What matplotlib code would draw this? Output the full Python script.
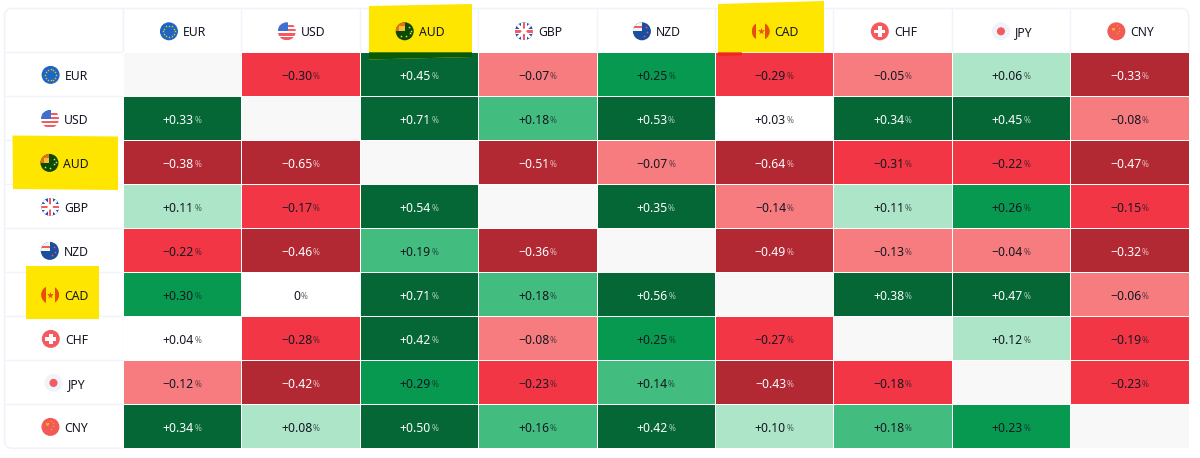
import numpy as np
import matplotlib
matplotlib.use('Agg')
import matplotlib.pyplot as plt
from matplotlib.colors import ListedColormap, BoundaryNorm
from matplotlib.patches import Circle, Rectangle, Polygon, FancyBboxPatch

plt.rcParams['font.family'] = ['Noto Sans', 'DejaVu Sans']

# Data
currencies = ['EUR', 'USD', 'AUD', 'GBP', 'NZD', 'CAD', 'CHF', 'JPY', 'CNY']
n = np.nan
eur = [n, -0.30, 0.45, -0.07, 0.25, -0.29, -0.05, 0.06, -0.33]
usd = [0.33, n, 0.71, 0.18, 0.53, 0.03, 0.34, 0.45, -0.08]
aud = [-0.38, -0.65, n, -0.51, -0.07, -0.64, -0.31, -0.22, -0.47]
gbp = [0.11, -0.17, 0.54, n, 0.35, -0.14, 0.11, 0.26, -0.15]
nzd = [-0.22, -0.46, 0.19, -0.36, n, -0.49, -0.13, -0.04, -0.32]
cad = [0.30, 0.00, 0.71, 0.18, 0.56, n, 0.38, 0.47, -0.06]
chf = [0.04, -0.28, 0.42, -0.08, 0.25, -0.27, n, 0.12, -0.19]
jpy = [-0.12, -0.42, 0.29, -0.23, 0.14, -0.43, -0.18, n, -0.23]
cny = [0.34, 0.08, 0.50, 0.16, 0.42, 0.10, 0.18, 0.23, n]
values = np.array([eur, usd, aud, gbp, nzd, cad, chf, jpy, cny])

# colour classes as used on the heatmap widget
bounds = [-1, -0.315, -0.145, -0.035, 0.05, 0.13, 0.21, 0.315, 1]
colors = ['#B22833', '#F23645', '#F77C80', '#FFFFFF', '#ACE5C8', '#42BD7F', '#089950', '#056636']

# layout in pixels
x0, y0 = 122.7, 52.3
cw, ch = 118.45, 44.0
left, top = 4.5, 8.5
ink = '#131722'

fig = plt.figure(figsize=(12, 4.58), dpi=100)
ax = fig.add_axes([0, 0, 1, 1])
ax.set_xlim(0, 1200)
ax.set_ylim(458, 0)
ax.axis('off')

x_edges = x0 + cw * np.arange(10)
y_edges = y0 + ch * np.arange(10)

# card behind everything
ax.add_patch(FancyBboxPatch((left, top), x_edges[-1] - left, y_edges[-1] - top,
                            boxstyle='round,pad=0,rounding_size=8', fc='white', ec='#F0F3FA', lw=1.2, zorder=0))
for x in x_edges[:-1]:
    ax.plot([x, x], [top, y0], color='#F0F3FA', lw=1, zorder=1)
ax.plot([x0, x0], [top, y_edges[-1]], color='#F0F3FA', lw=1, zorder=1)
for y in y_edges[:-1]:
    ax.plot([left, x0], [y, y], color='#F0F3FA', lw=1, zorder=1)

cmap = ListedColormap(colors)
cmap.set_bad('#F8F8F8')
norm = BoundaryNorm(bounds, cmap.N)
ax.pcolormesh(x_edges, y_edges, np.ma.masked_invalid(values), cmap=cmap, norm=norm,
              edgecolors='#FFFFFF', linewidth=0.6, zorder=2)

# yellow marker strokes
ax.add_patch(Polygon([(369, 6), (472, 4), (472, 57), (369, 59.5)], fc='#FFE600', ec='none', zorder=3))
ax.add_patch(Polygon([(369, y0), (472, y0), (472, 57), (369, 59.5)], fc='#0A5A0C', ec='none', zorder=3.1))
ax.add_patch(Polygon([(718, 4), (824, 1), (824, y0), (718, y0)], fc='#FFE600', ec='none', zorder=3))
ax.add_patch(Polygon([(718, y0), (742, y0), (742, 55.5), (718, 56)], fc='#EE2A10', ec='none', zorder=3.1))
ax.add_patch(Polygon([(12.5, 135.5), (118, 136.5), (118, 190), (13, 189)], fc='#FFE600', ec='none', zorder=3))
ax.add_patch(Polygon([(26, 266), (98.5, 266), (98.5, 319), (26, 319)], fc='#FFE600', ec='none', zorder=3))


def flag(code, cx, cy, r=9.0):
    z = 4
    disc = Circle((cx, cy), r, transform=ax.transData)

    def clipped(p):
        ax.add_patch(p)
        p.set_clip_path(disc)
        p.set_zorder(z + 0.1)

    def dots(pts, color, s=2.0, marker='*'):
        xs = [cx + a * r for a, b in pts]
        ys = [cy + b * r for a, b in pts]
        ax.scatter(xs, ys, s=s, c=color, marker=marker, linewidths=0, zorder=z + 0.2, clip_path=disc)

    base = {'EUR': '#1C65C4', 'USD': '#FFFFFF', 'AUD': '#0A4A06', 'GBP': '#FFFFFF', 'NZD': '#1C4E9E',
            'CAD': '#FFE600', 'CHF': '#F45B5F', 'JPY': '#F0F3FA', 'CNY': '#F25A55'}[code]
    ax.add_patch(Circle((cx, cy), r, fc=base, ec='none', zorder=z))
    if code == 'EUR':
        ang = np.arange(12) * np.pi / 6
        dots(list(zip(0.62 * np.cos(ang), 0.62 * np.sin(ang))), '#F5C518', s=3.5)
    elif code == 'USD':
        for k in [-0.55, -0.1, 0.35, 0.8]:
            clipped(Rectangle((cx - r, cy + (k - 0.12) * r), 2 * r, 0.24 * r, fc='#F45B5F', ec='none'))
        clipped(Rectangle((cx - r, cy - r), r * 1.15, r * 1.0, fc='#3C6FD0', ec='none'))
    elif code == 'AUD':
        clipped(Rectangle((cx - r, cy - r), r, r, fc='#E8701A', ec='none'))
        clipped(Rectangle((cx - r * 0.6, cy - r * 0.6), r * 0.6, r * 0.6, fc='#F2C230', ec='none'))
        dots([(0.45, -0.45), (0.55, 0.15), (0.1, 0.55), (-0.45, 0.5), (0.75, -0.05)], '#F5E050', s=4)
    elif code == 'GBP':
        clipped(Rectangle((cx - r, cy - r), 2 * r, 2 * r, fc='#1F4FA8', ec='none'))
        ax.plot([cx - r, cx + r], [cy - r, cy + r], color='white', lw=2.2, zorder=z + 0.2, clip_path=disc)
        ax.plot([cx - r, cx + r], [cy + r, cy - r], color='white', lw=2.2, zorder=z + 0.2, clip_path=disc)
        clipped(Rectangle((cx - r, cy - 0.3 * r), 2 * r, 0.6 * r, fc='white', ec='none'))
        clipped(Rectangle((cx - 0.3 * r, cy - r), 0.6 * r, 2 * r, fc='white', ec='none'))
        clipped(Rectangle((cx - r, cy - 0.14 * r), 2 * r, 0.28 * r, fc='#F45B5F', ec='none'))
        clipped(Rectangle((cx - 0.14 * r, cy - r), 0.28 * r, 2 * r, fc='#F45B5F', ec='none'))
    elif code == 'NZD':
        clipped(Rectangle((cx - r, cy - r), r, r, fc='#F4F4F4', ec='none'))
        clipped(Rectangle((cx - r, cy - 0.6 * r), r, 0.25 * r, fc='#F45B5F', ec='none'))
        dots([(0.45, -0.45), (0.55, 0.1), (0.2, 0.5)], '#F45B5F', s=4)
    elif code == 'CAD':
        clipped(Rectangle((cx - r, cy - r), 0.5 * r, 2 * r, fc='#E8500A', ec='none'))
        clipped(Rectangle((cx + 0.5 * r, cy - r), 0.5 * r, 2 * r, fc='#E8500A', ec='none'))
        dots([(0, 0)], '#E8500A', s=26)
    elif code == 'CHF':
        clipped(Rectangle((cx - 0.6 * r, cy - 0.2 * r), 1.2 * r, 0.4 * r, fc='white', ec='none'))
        clipped(Rectangle((cx - 0.2 * r, cy - 0.6 * r), 0.4 * r, 1.2 * r, fc='white', ec='none'))
    elif code == 'JPY':
        ax.add_patch(Circle((cx, cy), 0.45 * r, fc='#F45B5F', ec='none', zorder=z + 0.1))
    elif code == 'CNY':
        dots([(-0.4, -0.3)], '#F5C518', s=9)
        dots([(0.1, -0.7), (0.3, -0.4), (0.3, -0.05), (0.1, 0.2)], '#F5C518', s=2)


renderer = fig.canvas.get_renderer()


def label(code, cx, cy):
    t = ax.text(0, cy, code, fontsize=8.8, color=ink, ha='left', va='center_baseline', zorder=5)
    w = t.get_window_extent(renderer).width
    total = 18 + 5 + w
    start = cx - total / 2
    t.set_x(start + 23)
    flag(code, start + 9, cy + 0.3)


for i, code in enumerate(currencies):
    label(code, x_edges[i] + cw / 2 + 1.2, 31)
    label(code, (left + x0) / 2 + 1.2, y_edges[i] + ch / 2 + 0.3)

for r in range(9):
    for c in range(9):
        v = values[r, c]
        if np.isnan(v):
            continue
        s = '0' if v == 0 else f'{v:+.2f}'.replace('-', '\u2212')
        col = 'white' if (v <= -0.315 or v >= 0.315) else ink
        cy = y_edges[r] + ch / 2 + 0.5
        t = ax.text(0, cy, s, fontsize=8.8, color=col, ha='left', va='center_baseline', zorder=5)
        p = ax.text(0, cy + 0.8, '%', fontsize=6, color=col, alpha=0.65, ha='left', va='center_baseline', zorder=5)
        w1 = t.get_window_extent(renderer).width
        w2 = p.get_window_extent(renderer).width
        start = x_edges[c] + cw / 2 - (w1 + 0.5 + w2) / 2
        t.set_x(start)
        p.set_x(start + w1 + 0.5)

fig.savefig('out.png', dpi=100)
